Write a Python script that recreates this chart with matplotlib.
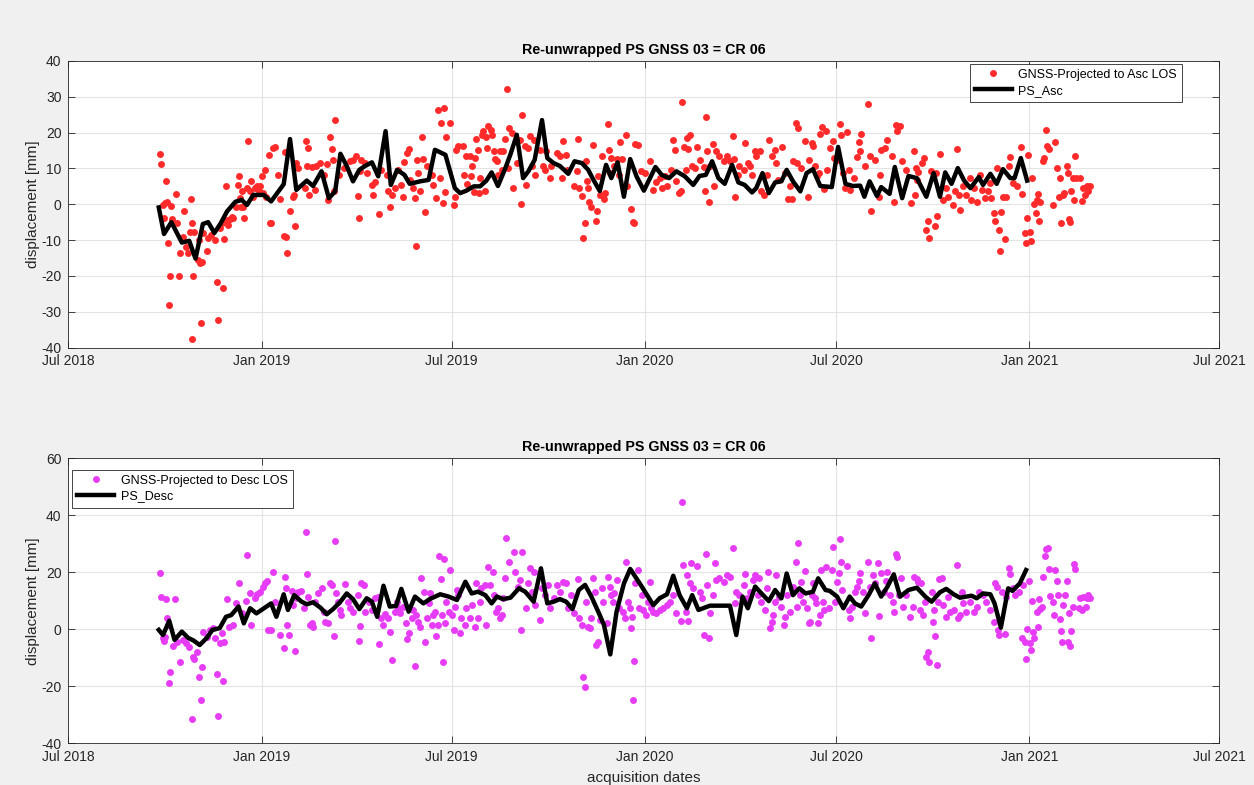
import numpy as np
import matplotlib
matplotlib.use('Agg')
import matplotlib.pyplot as plt

# day offsets from 2018-07-01, displacement in mm
start = np.datetime64('2018-07-01')

asc_gnss = np.array([
    (87,13.9),(88,11.2),(93,6.5),(90,-0.2),(94,0.7),(92,0.3),(98,-0.4),(102,2.8),(91,-3.9),(99,-4.2),
    (103,-5.3),(95,-10.7),(106,-13.7),(110,-1.8),(117,1.4),(109,-9.1),(112,-11.9),(116,-7.7),(120,-7.7),(124,-10.0),
    (118,-5.3),(114,-13.7),(123,-15.6),(125,-16.5),(127,-16.1),(97,-20.1),(105,-20.0),(119,-20.0),(96,-28.2),(126,-33.1),
    (118,-37.6),(142,-32.4),(141,-21.7),(147,-23.5),(132,-13.0),(128,-8.1),(133,-9.5),(136,-8.6),(140,-10.0),(148,-9.8),
    (144,-6.7),(146,-5.3),(151,-4.4),(154,-4.2),(157,-3.9),(152,-5.8),(150,5.1),(161,5.4),(162,7.8),(167,-3.9),
    (166,-0.7),(163,1.7),(165,3.6),(170,4.5),(171,17.8),(173,3.6),(174,6.6),(178,4.5),(180,5.0),(182,5.1),
    (184,7.8),(187,9.6),(191,13.8),(195,15.7),(197,15.9),(192,-5.1),(193,-5.3),(200,8.2),(201,1.4),(206,14.5),
    (205,-8.9),(207,-9.1),(208,-13.6),(211,-1.8),(216,-6.1),(214,2.1),(215,2.6),(217,11.5),(219,10.1),(156,-3.5),
    (160,-0.7),(164,-0.7),(176,2.1),(181,3.6),(185,3.1),(188,2.1),
    (226,17.6),(228,15.7),(227,10.6),(232,10.4),(236,10.6),(240,11.5),(246,11.3),(254,23.6),(249,18.8),(251,15.4),
    (252,12.4),(225,4.5),(229,2.6),(235,4.0),(243,8.2),(247,1.2),(253,3.6),(258,8.2),(262,10.1),(268,12.0),
    (271,12.4),(274,13.4),(279,12.4),(282,11.5),(278,9.2),(284,8.7),(277,-3.9),(276,2.4),(289,5.4),(292,6.1),
    (290,2.6),(296,-2.7),(298,9.6),(303,8.2),(306,-0.9),(304,3.6),(308,2.6),(311,4.5),(314,9.6),(317,5.4),
    (319,2.1),(322,14.3),(324,15.4),(320,11.7),(325,6.8),(328,4.5),(330,1.7),(331,-11.6),(332,12.4),(333,8.7),
    (335,3.6),(337,18.8),(338,12.6),(340,-2.1),(341,10.6),(346,8.2),(347,5.4),(350,1.7),(352,26.3),(355,22.7),
    (358,26.9),(360,18.8),(363,22.7),(354,7.3),(357,0.3),(359,3.3),(367,-0.2),(368,2.1),(369,15.2),(371,16.2),
    (418,32.1),(432,24.9),(514,22.5),(388,18.3),(394,19.4),(395,20.4),(400,21.8),(402,20.8),(403,19.4),(398,18.8),
    (416,18.3),(420,21.3),(422,19.9),(376,16.2),(379,13.4),(382,13.4),(387,12.9),(390,15.2),(399,15.7),(405,14.8),
    (406,12.6),(411,15.0),(414,14.8),(430,18.0),(435,16.2),(438,15.7),(440,19.0),(443,17.9),(449,15.2),(455,14.8),
    (465,14.3),(468,13.4),(471,17.6),(474,13.8),(485,18.3),(493,12.1),(500,16.6),(508,13.4),(515,15.2),(517,12.9),
    (522,12.6),(525,17.3),(377,8.2),(380,5.7),(383,7.8),(384,10.6),(386,3.3),(391,3.1),(392,7.3),(397,3.8),
    (408,12.0),(409,8.2),(413,9.6),(419,10.1),(423,4.5),(427,11.5),(431,0.1),(436,5.4),(441,10.6),(444,8.2),
    (452,10.7),(454,9.6),(459,7.3),(460,10.6),(470,7.3),(475,9.6),(481,5.0),(484,9.2),(486,4.5),(489,2.3),
    (494,6.4),(495,4.5),(496,0.5),(498,-0.7),(503,-1.8),(504,7.8),(506,2.6),(510,1.4),(511,3.1),(492,-5.1),
    (502,-4.6),(490,-9.3),(520,10.6),(516,8.7),(524,8.2),
    (531,19.4),(540,16.9),(542,16.6),(527,12.7),(532,5.0),(536,-1.4),(538,-4.9),(539,-5.3),(545,9.2),(554,12.0),
    (549,8.7),(557,4.0),(560,6.1),(565,4.5),(570,5.0),(574,9.6),(576,18.0),(578,15.2),(579,6.6),(581,3.1),
    (583,3.6),(584,28.6),(586,16.0),(589,18.5),(592,19.2),(590,15.4),(594,10.7),(599,16.0),(601,12.4),(605,10.4),
    (606,3.8),(607,24.4),(608,14.8),(610,0.7),(614,16.9),(615,5.0),(617,14.8),(620,13.4),(624,12.0),(627,13.4),
    (633,19.0),(634,12.6),(635,2.0),(639,10.6),(644,17.1),(643,9.6),(647,11.5),(651,8.2),(654,14.8),(655,13.4),
    (659,14.8),(660,3.6),(662,2.6),(665,8.2),(667,18.0),(670,13.4),(673,15.2),(674,11.5),(676,6.8),(563,7.3),
    (568,7.8),(588,9.6),(597,10.1),(611,10.6),(630,12.0),(638,8.2),(649,10.6),
    (680,16.0),(693,22.7),(695,21.3),(701,17.6),(708,17.1),(709,16.2),(716,19.7),(718,21.6),(721,20.4),(728,17.6),
    (735,22.5),(736,19.4),(741,20.1),(755,19.7),(761,27.9),(753,17.3),(754,15.0),(751,13.2),(685,1.4),(689,1.4),
    (687,5.0),(682,8.7),(690,12.0),(694,11.5),(698,10.1),(705,12.4),(711,10.6),(704,2.1),(715,8.7),(720,4.2),
    (725,15.7),(729,12.9),(732,12.4),(743,9.6),(744,4.0),(748,7.3),(759,10.6),(763,13.4),(768,12.4),(764,-1.8),
    (773,8.2),(772,2.1),(774,15.2),(778,15.7),(780,18.0),(784,13.4),(786,0.7),(788,22.2),(789,20.4),(792,21.8),
    (794,12.0),(798,9.6),(802,0.3),(805,14.8),(806,2.6),(807,10.1),(809,8.9),(813,11.5),(815,12.9),(808,6.8),
    (819,-4.6),(817,-7.2),(820,-9.3),(825,-6.1),(827,-3.3),(821,9.2),(826,8.7),(830,14.1),(713,7.8),(722,9.6),
    (738,8.7),(740,4.5),
    (846,15.4),(833,1.2),(836,4.5),(838,2.1),(842,-0.2),(844,3.6),(849,-1.6),(848,2.6),(852,5.1),(855,2.6),
    (859,7.3),(860,1.2),(862,4.5),(865,0.7),(868,8.2),(870,4.0),(873,1.7),(876,3.6),(878,5.9),(879,1.7),
    (881,-2.5),(882,-4.6),(886,-7.2),(887,-13.0),(888,-2.3),(890,2.1),(892,-9.7),(893,2.1),(884,10.1),(897,13.2),
    (896,10.7),(900,5.9),(903,5.0),(907,16.0),(908,2.9),(913,-3.9),(911,-8.1),(912,-10.7),(914,13.8),(916,-7.7),
    (917,-10.2),(918,7.3),(920,0.1),(922,1.2),(923,2.9),(925,0.5),(921,-2.5),(924,-4.6),(928,12.2),(929,12.9),
    (931,20.7),(932,16.2),(934,15.5),(940,17.3),(938,-0.2),(941,10.1),(943,2.1),(944,7.3),(945,-5.3),(947,2.6),
    (948,3.1),(951,10.6),(952,8.7),(953,-4.2),(954,-4.9),(955,3.6),(957,7.3),(958,1.2),(959,13.6),(960,7.3),
    (963,7.3),(965,1.0),(966,4.5),(970,5.0),(971,3.8),(973,5.0),(968,2.6),
])

asc_ps = np.array([
    (86,-0.9),(91,-8.3),(98,-5.0),(108,-10.7),(115,-10.2),(121,-15.2),(128,-5.5),(133,-5.0),(139,-8.0),(145,-5.3),
    (151,-2.0),(159,0.7),(165,1.2),(170,-0.2),(176,2.6),(186,2.6),(193,0.8),(205,5.6),(211,18.2),(217,4.0),
    (227,6.6),(233,5.1),(241,9.2),(248,1.7),(254,3.6),(259,14.1),(265,10.7),(271,6.4),(277,9.6),(282,10.6),
    (289,11.7),(295,7.8),(302,20.4),(307,5.4),(313,9.6),(320,8.2),(325,5.7),(335,6.4),(343,6.8),(349,15.2),
    (359,13.8),(368,4.5),(373,3.1),(379,3.8),(386,5.0),(392,5.0),(398,6.6),(403,8.9),(409,5.1),(416,10.0),
    (421,14.0),(427,19.4),(433,7.3),(438,9.2),(444,12.4),(451,23.5),(456,12.9),(462,11.5),(468,10.7),(476,8.5),
    (482,12.0),(489,11.5),(495,9.6),(500,6.8),(506,3.7),(512,11.0),(517,7.3),(523,11.7),(529,2.1),(535,12.6),
    (541,7.8),(548,3.8),(559,10.4),(565,8.2),(572,7.3),(579,9.2),(587,7.8),(595,5.4),(601,7.9),(607,8.2),
    (613,12.0),(619,7.3),(625,5.7),(632,11.0),(638,6.1),(644,5.4),(651,3.3),(655,4.5),(661,8.7),(667,3.1),
    (673,6.1),(679,6.4),(684,9.6),(690,6.4),(697,3.6),(703,8.7),(709,9.8),(716,5.1),(727,4.8),(733,16.0),
    (740,5.7),(747,5.1),(754,5.2),(758,2.1),(763,6.4),(770,2.3),(774,4.8),(782,2.9),(787,10.4),(794,1.7),
    (800,7.9),(808,7.3),(817,2.1),(824,8.7),(830,2.1),(835,8.9),(841,5.7),(847,10.1),(853,6.6),(859,4.5),
    (867,7.6),(871,5.4),(878,8.5),(884,5.7),(890,9.8),(897,7.3),(901,7.3),(907,12.9),(913,6.6),
])

desc_gnss = np.array([
    (87,19.6),(88,11.5),(93,10.5),(101,10.5),(94,3.9),(90,-3.2),(91,-4.1),(92,-2.6),(95,1.5),(100,-5.7),
    (103,-4.3),(106,-11.6),(97,-14.9),(96,-18.9),(109,-3.7),(112,-4.9),(115,-6.1),(119,-9.6),(120,-10.4),(122,-7.8),
    (127,-13.1),(124,-16.6),(126,-24.8),(118,-31.5),(142,-30.3),(141,-15.8),(147,-18.1),(128,-0.8),(132,-2.6),(135,-0.2),
    (138,0.4),(140,-3.2),(144,-4.9),(148,-4.6),(146,-1.4),(151,10.6),(153,0.9),(157,1.5),(160,9.1),(162,16.1),
    (165,5.6),(169,9.9),(170,26.1),(173,12.6),(174,1.5),(178,10.9),(180,12.3),(182,13.2),(185,15.0),(187,16.1),
    (189,17.0),(190,-0.2),(193,-0.2),(195,20.0),(197,9.7),(201,-2.0),(205,-6.4),(206,18.5),(208,1.5),(210,-2.0),
    (207,14.4),(213,13.5),(214,8.5),(216,-7.6),(217,10.9),(219,13.2),
    (226,34.0),(227,19.4),(254,31.0),(221,13.5),(224,7.4),(228,11.5),(232,2.1),(233,0.9),(230,1.5),(235,9.7),
    (238,12.6),(241,14.4),(243,6.2),(244,2.7),(247,2.1),(249,16.1),(251,15.6),(253,-2.2),(255,12.6),(257,9.7),
    (259,6.8),(260,5.0),(263,15.8),(266,9.7),(268,7.4),(271,6.2),(276,12.0),(278,1.3),(277,-4.0),(279,16.1),
    (281,15.6),(282,6.2),(286,9.7),(289,6.8),(292,10.9),(295,11.5),(296,-5.0),(298,3.9),(300,1.5),(301,5.3),
    (304,3.9),(306,-0.8),(308,-10.6),(311,6.2),(313,9.7),(314,7.4),(316,5.6),(319,8.0),(321,2.1),(322,-3.4),
    (324,-1.4),(327,3.9),(328,6.8),(330,-12.7),(331,5.0),(333,2.7),(335,0.9),(336,17.9),(339,13.0),(340,-4.6),
    (341,4.1),(343,9.1),(344,12.6),(346,1.5),(347,5.0),(349,6.2),(350,-2.3),(352,1.5),(353,25.8),(355,17.7),
    (356,5.0),(357,-11.6),(358,24.7),(359,2.1),(360,9.7),(362,6.2),(363,20.8),(365,5.0),(367,-0.2),(368,8.0),
    (370,13.8),(371,12.0),
    (373,-1.4),(374,3.9),(378,1.5),(379,7.4),(382,3.9),(384,8.5),(387,0.9),(388,16.1),(390,3.9),(392,9.7),
    (393,14.4),(397,15.6),(398,1.5),(400,22.0),(401,15.6),(404,20.0),(405,12.0),(407,6.2),(409,7.4),(411,3.9),
    (413,5.0),(414,10.9),(417,31.9),(416,17.9),(420,23.7),(424,27.0),(425,20.2),(432,27.0),(428,15.0),(431,-0.2),
    (430,17.3),(436,7.4),(438,16.1),(440,21.6),(441,13.2),(443,20.2),(444,8.5),(449,3.3),(451,14.4),(454,12.0),
    (457,15.6),(459,7.4),(462,10.9),(465,15.6),(468,13.2),(471,16.7),(474,16.1),(476,7.4),(479,12.0),(481,5.6),
    (485,17.7),(486,3.9),(489,1.5),(490,-16.6),(492,-20.1),(493,9.7),(495,0.9),(497,0.4),(498,3.9),(500,17.9),
    (501,13.2),(502,-5.5),(504,-4.3),(506,3.3),(508,14.4),(509,9.7),(513,2.1),(514,18.5),(516,15.0),(517,12.0),
    (519,9.7),(520,12.6),(522,17.3),(524,7.4),
    (528,6.2),(530,3.9),(531,23.5),(533,9.7),(535,7.4),(536,0.4),(537,4.4),(539,-11.0),(538,-24.7),(540,16.1),
    (542,20.8),(543,7.4),(546,12.0),(547,6.8),(550,5.0),(552,9.7),(554,16.7),(555,7.4),(557,6.2),(560,5.6),
    (563,6.8),(566,7.4),(570,8.5),(573,9.7),(576,12.0),(579,5.6),(583,3.0),(584,44.8),(585,22.6),(588,6.2),
    (589,19.1),(590,3.0),(592,16.1),(593,23.2),(595,14.4),(599,22.3),(601,13.2),(603,10.9),(605,-2.0),(607,26.4),
    (608,15.6),(610,-2.9),(611,5.6),(614,12.0),(616,23.2),(617,17.3),(620,17.9),(624,16.7),(627,19.1),(630,18.5),
    (633,28.4),(635,9.1),(636,13.2),(639,12.0),(643,15.6),(644,19.3),(646,10.9),(649,13.2),(652,17.3),(654,19.1),
    (657,12.0),(658,17.9),(660,9.7),(663,6.8),(665,14.4),(666,20.2),(668,0.4),(670,2.7),(671,5.0),(673,9.7),
    (674,19.1),(677,11.5),
    (679,8.0),(681,1.5),(682,4.4),(684,12.0),(687,6.2),(690,15.0),(693,23.7),(695,30.2),(694,8.0),(697,12.0),
    (698,16.7),(700,9.7),(701,20.5),(703,7.4),(705,2.1),(706,2.7),(708,12.0),(709,16.1),(711,10.9),(712,9.1),
    (714,2.1),(716,5.0),(717,20.8),(719,9.7),(720,6.8),(721,22.0),(724,7.4),(727,20.8),(728,29.0),(730,9.7),
    (732,16.7),(734,19.6),(735,31.7),(736,23.5),(737,13.8),(741,22.3),(743,6.8),(744,3.9),(746,8.0),(749,13.2),
    (751,15.0),(753,17.0),(754,19.6),(757,13.2),(759,5.6),(761,23.5),(763,15.0),(764,-2.9),(766,19.1),(768,16.1),
    (771,23.2),(772,4.8),(774,19.6),(777,13.2),(779,17.0),(780,20.0),(782,12.0),(785,9.7),(786,6.2),(788,26.3),
    (789,25.5),(791,12.0),(793,17.9),(795,8.0),(798,12.0),(801,4.4),(804,8.0),(805,18.5),(808,17.7),(809,16.7),
    (811,6.8),(812,16.1),(814,5.0),(816,9.7),(817,-9.6),(819,-7.8),(820,-11.3),(822,13.2),(823,2.7),(824,6.8),
    (825,-2.2),(827,-12.5),(828,9.7),(829,17.7),
    (832,17.9),(833,8.5),(836,4.4),(838,11.5),(840,6.2),(843,6.8),(846,22.6),(847,3.9),(849,5.0),(851,13.2),
    (852,9.1),(855,6.2),(859,9.7),(862,6.2),(865,8.0),(867,13.2),(871,12.0),(874,9.7),(878,6.8),(881,2.7),
    (882,16.1),(884,15.0),(885,-0.2),(886,-2.0),(889,13.2),(892,-1.6),(893,11.5),(896,21.6),(897,19.3),(900,14.4),
    (901,12.0),(905,13.2),(908,-2.9),(909,15.6),(911,-4.3),(912,-10.5),(913,0.1),(915,17.0),(916,-4.9),(917,-7.3),
    (918,9.9),(919,-0.8),(920,-3.2),(922,6.2),(924,10.6),(925,7.1),(927,8.0),(923,0.9),(928,18.5),(930,25.8),
    (931,28.2),(933,28.4),(934,21.2),(935,11.8),(938,9.7),(939,5.0),(940,20.8),(941,17.0),(942,12.0),(944,3.6),
    (945,-0.6),(946,-4.3),(947,8.5),(949,12.0),(951,17.0),(952,-4.3),(954,-5.7),(953,5.6),(955,-0.6),(957,8.0),
    (958,22.8),(959,21.2),(962,7.4),(963,11.1),(965,6.8),(966,11.5),(970,10.9),(971,12.0),(973,11.1),(969,8.0),
])

desc_ps = np.array([
    (86,-0.2),(90,-2.0),(96,3.0),(101,-3.7),(108,-0.8),(114,-3.0),(119,-3.9),(125,-5.5),(132,-2.9),(137,-0.2),
    (144,0.4),(150,4.4),(155,5.0),(162,8.0),(167,2.1),(173,7.4),(179,5.6),(187,7.6),(193,9.1),(198,4.4),
    (205,12.3),(209,6.8),(215,12.0),(222,9.7),(227,8.8),(233,9.5),(240,7.6),(246,5.3),(252,7.1),(259,9.7),
    (265,12.6),(271,10.6),(277,7.1),(284,10.9),(289,9.7),(294,4.4),(300,15.3),(306,8.0),(312,8.2),(317,14.2),
    (324,6.2),(330,11.5),(338,9.1),(344,10.6),(354,12.3),(362,11.5),(370,10.3),(378,16.7),(384,12.6),(390,13.2),
    (397,12.0),(403,9.1),(408,11.5),(414,10.6),(421,11.1),(429,14.4),(435,13.2),(443,9.7),(450,21.4),(456,9.1),
    (462,9.7),(468,10.6),(474,9.7),(480,7.1),(486,13.8),(492,15.6),(498,11.5),(506,5.0),(510,1.5),(516,-8.8),
    (522,6.2),(529,16.1),(535,21.2),(546,15.0),(557,8.5),(563,10.9),(570,12.3),(576,18.8),(582,12.0),(589,7.4),
    (594,12.0),(600,6.8),(611,8.3),(620,8.3),(630,8.3),(636,-2.0),(642,11.5),(647,7.4),(654,15.0),(660,12.6),
    (667,9.9),(673,13.8),(679,10.9),(684,19.6),(690,12.0),(696,14.4),(702,12.6),(709,13.2),(714,17.9),(721,13.8),
    (725,13.5),(732,11.5),(738,7.4),(744,11.5),(749,9.1),(755,8.0),(762,12.0),(768,16.1),(774,11.5),(780,15.0),
    (786,19.3),(792,11.5),(800,13.8),(808,14.6),(816,11.5),(822,9.7),(830,13.0),(836,14.2),(843,12.3),(849,11.1),
    (855,11.5),(860,11.8),(865,10.9),(871,12.6),(878,12.3),(882,9.1),(888,0.6),(895,14.4),(899,13.5),(906,16.1),
    (912,20.8),
])

tick_dates = ['2018-07-01', '2019-01-01', '2019-07-01', '2020-01-01', '2020-07-01', '2021-01-01', '2021-07-01']
tick_labels = ['Jul 2018', 'Jan 2019', 'Jul 2019', 'Jan 2020', 'Jul 2020', 'Jan 2021', 'Jul 2021']
title = 'Re-unwrapped PS GNSS 03 = CR 06'


def to_dates(days):
    return start + days.astype(int).astype('timedelta64[D]')


plt.rcParams['font.family'] = ['Liberation Sans', 'DejaVu Sans']
plt.rcParams['axes.unicode_minus'] = False
edge = '#262626'

fig = plt.figure(figsize=(12.54, 7.85), dpi=100, facecolor='#f0f0f0')
ax1 = fig.add_axes([0.0546, 0.5573, 0.9177, 0.365])
ax2 = fig.add_axes([0.0546, 0.0531, 0.9177, 0.363])

panels = [
    (ax1, asc_gnss, asc_ps, '#ff2b2b', 'GNSS-Projected to Asc LOS', 'PS_Asc', (-40, 40), np.arange(-40, 41, 10)),
    (ax2, desc_gnss, desc_ps, '#e63cf5', 'GNSS-Projected to Desc LOS', 'PS_Desc', (-40, 60), np.arange(-40, 61, 20)),
]

for ax, gnss, ps, col, glab, plab, ylim, yticks in panels:
    ax.set_facecolor('white')
    ax.plot(to_dates(gnss[:, 0]), gnss[:, 1], 'o', color=col, ms=5.0, mec='none', label=glab)
    ax.plot(to_dates(ps[:, 0]), ps[:, 1], '-', color='black', lw=3.2, label=plab)
    ax.set_xlim(np.datetime64('2018-07-01'), np.datetime64('2021-07-01'))
    ax.set_ylim(*ylim)
    ax.set_yticks(yticks)
    ax.set_xticks(np.array(tick_dates, dtype='datetime64[D]'))
    ax.set_xticklabels(tick_labels)
    ax.grid(True, color='#e3e3e3', lw=0.8)
    ax.set_axisbelow(True)
    ax.tick_params(direction='in', top=True, right=True, length=5, width=0.6, color=edge,
                   labelsize=10, labelcolor=edge, pad=5)
    for s in ax.spines.values():
        s.set_color(edge)
        s.set_linewidth(0.6)
    ax.set_title(title, fontsize=10.3, fontweight='bold', color='black', pad=5)
    ax.set_ylabel('displacement [mm]', fontsize=11, color=edge, labelpad=1)

leg_kw = dict(borderaxespad=0, fontsize=9, fancybox=False, framealpha=1, edgecolor=edge,
              handlelength=3.0, borderpad=0.4, labelspacing=0.3, handletextpad=0.5)
ax1.legend(loc='upper right', bbox_to_anchor=(0.9676, 0.99), **leg_kw)
ax2.legend(loc='upper left', bbox_to_anchor=(0.003, 0.96), **leg_kw)
for lg in (ax1.get_legend(), ax2.get_legend()):
    lg.get_frame().set_linewidth(0.6)

ax2.set_xlabel('acquisition dates', fontsize=11, color=edge, labelpad=5)

fig.savefig('out.png', dpi=100, facecolor=fig.get_facecolor())
